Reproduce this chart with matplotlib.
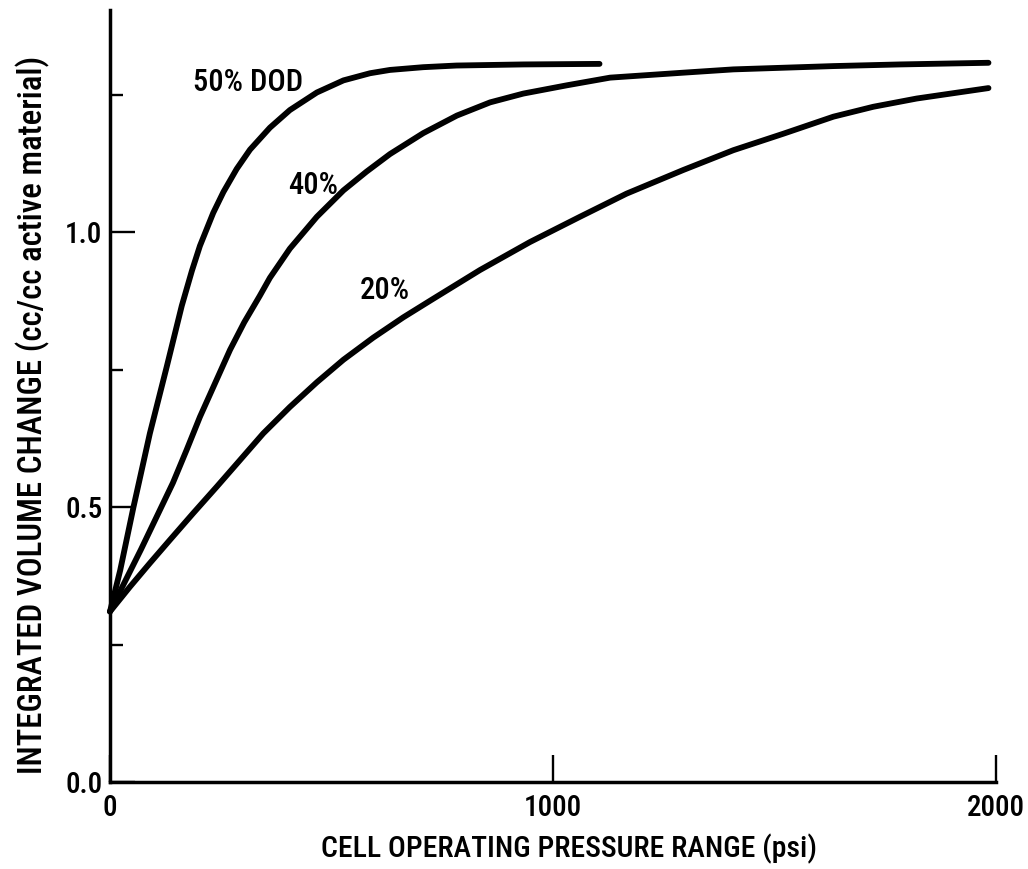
import matplotlib
matplotlib.use("Agg")
import matplotlib.pyplot as plt
from matplotlib import font_manager

# ---------------- data ----------------
x_50 = [0, 23, 53, 90, 128, 162, 185, 203, 233, 256, 286, 316, 361, 406, 467, 527,
        587, 632, 707, 782, 933, 1105]
y_50 = [0.31, 0.385, 0.50, 0.634, 0.755, 0.866, 0.930, 0.975, 1.035, 1.073, 1.115,
        1.150, 1.190, 1.222, 1.254, 1.276, 1.289, 1.295, 1.300, 1.303, 1.305, 1.306]

x_40 = [0, 70, 142, 173, 203, 237, 271, 303, 338, 361, 406, 467, 527, 579,
        632, 707, 783, 858, 933, 1031, 1129, 1294, 1407, 1520, 1633, 1783, 1983]
y_40 = [0.31, 0.423, 0.544, 0.604, 0.664, 0.725, 0.786, 0.836, 0.884,
        0.917, 0.970, 1.028, 1.076, 1.110, 1.142, 1.180, 1.212, 1.236, 1.252, 1.267,
        1.281, 1.290, 1.296, 1.299, 1.302, 1.305, 1.308]

x_20 = [0, 45, 90, 135, 188, 241, 293, 346, 406, 467, 527, 594, 662, 726, 835,
        948, 1061, 1166, 1294, 1407, 1520, 1633, 1723, 1821, 1983]
y_20 = [0.31, 0.355, 0.398, 0.44, 0.489, 0.537, 0.585, 0.634, 0.682, 0.727, 0.768,
        0.808, 0.845, 0.877, 0.931, 0.982, 1.028, 1.070, 1.113, 1.149, 1.179,
        1.210, 1.228, 1.243, 1.262]

curve_labels = ["50% DOD", "40%", "20%"]
label_pos = [(187, 1.273), (401, 1.085), (564, 0.894)]

x_ticks = [0, 1000, 2000]
x_ticklabels = ["0", "1000", "2000"]
y_major = [0.0, 0.5, 1.0]
y_major_labels = ["0.0", "0.5", "1.0"]
y_minor = [0.25, 0.75, 1.25]

xlabel = "CELL OPERATING PRESSURE RANGE (psi)"
ylabel = "INTEGRATED VOLUME CHANGE (cc/cc active material)"

# ---------------- font ----------------
family = "DejaVu Sans"
for f in font_manager.fontManager.ttflist:
    if f.fname.endswith("RobotoCondensed-Regular.ttf"):
        family = f.name
        break
plt.rcParams["font.family"] = [family, "DejaVu Sans"]
plt.rcParams["font.weight"] = "medium"

# ---------------- figure ----------------
fig = plt.figure(figsize=(10.28, 8.69), dpi=100)
ax = fig.add_axes([110 / 1028, 87 / 869, 886 / 1028, 772 / 869])

lw = 4.2
for xs, ys in [(x_50, y_50), (x_40, y_40), (x_20, y_20)]:
    ax.plot(xs, ys, color="black", lw=lw, solid_capstyle="round",
            solid_joinstyle="round", clip_on=False)

for txt, (tx, ty) in zip(curve_labels, label_pos):
    ax.text(tx, ty, txt, fontsize=22, fontweight="medium", ha="left",
            va="center", color="black")

ax.set_xlim(0, 2000)
ax.set_ylim(0, 1.404)

for side in ["top", "right"]:
    ax.spines[side].set_visible(False)
for side in ["left", "bottom"]:
    ax.spines[side].set_linewidth(2.5)
    ax.spines[side].set_color("black")
    ax.spines[side].set_capstyle("projecting")

ax.set_xticks(x_ticks)
ax.set_xticklabels(x_ticklabels)
ax.set_yticks(y_major)
ax.set_yticklabels(y_major_labels)
ax.set_yticks(y_minor, minor=True)

ax.tick_params(axis="x", which="major", direction="in", length=19.5, width=1.7,
               pad=9, labelsize=21)
ax.tick_params(axis="y", which="major", direction="in", length=18, width=1.7,
               pad=5.5, labelsize=21)
ax.tick_params(axis="y", which="minor", direction="in", length=9.5, width=1.7)

ax.set_xlabel(xlabel, fontsize=21.4, fontweight="medium")
ax.xaxis.set_label_coords((569 - 110) / 886, (782 - 849) / 772)
ax.xaxis.label.set_verticalalignment("center")

ax.set_ylabel(ylabel, fontsize=23.7, fontweight="medium")
ax.yaxis.set_label_coords((33 - 110) / 886, (782 - 415) / 772)
ax.yaxis.label.set_verticalalignment("center")

fig.savefig("out.png", dpi=100)
